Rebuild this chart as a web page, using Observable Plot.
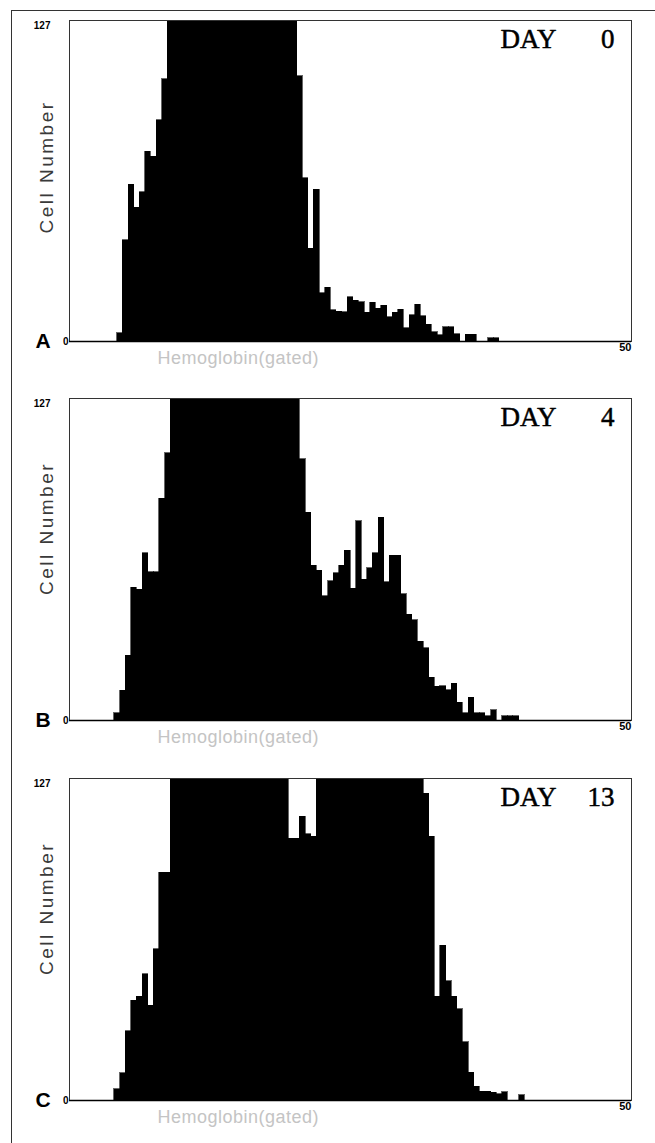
<!DOCTYPE html>
<html><head><meta charset="utf-8">
<script src="https://cdn.jsdelivr.net/npm/d3@7"></script>
<script src="https://cdn.jsdelivr.net/npm/@observablehq/plot@0.6"></script>
<style>
html,body{margin:0;padding:0;background:#fff;}
#fig{position:relative;width:655px;height:1143px;overflow:hidden;background:#fff;}
#border{position:absolute;left:11px;top:10px;right:-2px;bottom:-2px;border-left:1px solid #333;border-top:1px solid #333;}
.panel{position:absolute;left:0;width:655px;}
</style></head><body><div id="fig"><div id="border"></div></div>
<script>
// ---- data ----
const dayNumbers = ["0", "4", "13"];
const panelLetters = ["A", "B", "C"];
const binStart = [4.25, 4.0, 4.0];   // hemoglobin value of first bin
const binWidth = 0.5;
const yTicks = [0, 127];
const xTicks = [50];
const xLabel = "Hemoglobin(gated)";
const yLabel = "Cell Number";

const day0Counts = [3.3, 40, 62, 53, 59, 75, 73, 87.5, 103.7,
  127, 127, 127, 127, 127, 127, 127, 127, 127, 127, 127, 127, 127, 127, 127, 127, 127, 127, 127, 127, 127, 127, 127,
  105, 64.5, 36.7, 60, 19.1, 21.2, 12.3, 11.8, 11.6, 17.5, 16.2, 15.6, 11.3, 15.3, 12.9, 14.2, 9.6, 11.3, 12.5, 5.3,
  10.3, 14.5, 9.9, 6.6, 3.7, 2.4, 5.7, 5.7, 2.8, 0, 2.6, 2.6, 0, 0, 1.3, 1.3];

const day4Counts = [2.8, 11.7, 25.6, 52.3, 51.6, 66, 58.4, 58.4, 87.5, 105.5,
  127, 127, 127, 127, 127, 127, 127, 127, 127, 127, 127, 127, 127, 127, 127, 127, 127, 127, 127, 127, 127, 127, 127,
  103, 82, 61, 59, 49, 55, 58, 61, 67, 52, 78.5, 55.5, 60, 66, 80, 54.6, 65, 65, 49.7, 41.8,
  39.5, 31, 28.5, 16.8, 13.4, 13.5, 12, 14.5, 7, 2.9, 9, 2.9, 2.9, 1.6, 4, 0, 1.6, 1.6, 1.6];

const day13Counts = [4.5, 10.8, 27.4, 39.3, 41, 49.8, 37.4, 59.7, 89.8, 89.8,
  127, 127, 127, 127, 127, 127, 127, 127, 127, 127, 127, 127, 127, 127, 127, 127, 127, 127, 127, 127, 127,
  103.3, 103.3, 112, 105, 104,
  127, 127, 127, 127, 127, 127, 127, 127, 127, 127, 127, 127, 127, 127, 127, 127, 127, 127, 127,
  121, 104, 41, 61, 47, 41, 36, 23, 11, 5.5, 3.5, 3.5, 3, 2.5, 3.2, 0, 0, 2];

const allCounts = [day0Counts, day4Counts, day13Counts];

// ---- layout (not data) ----
const panelTop = [0, 378, 758];
const frameHeight = [321, 322, 322];
const cellLabelDy = [-14, -31, -31];

const fig = document.getElementById("fig");

allCounts.forEach((counts, p) => {
  const rows = counts.map((c, i) => ({
    x1: binStart[p] + i * binWidth,
    x2: binStart[p] + (i + 1) * binWidth,
    count: c
  }));
  const mt = 20, mb = 37;
  const chart = Plot.plot({
    width: 655,
    height: mt + frameHeight[p] + mb,
    marginLeft: 69, marginRight: 24, marginTop: mt, marginBottom: mb,
    x: {domain: [0, 50], label: null},
    y: {domain: [0, 127], label: null},
    style: {background: "transparent", fontFamily: "Liberation Sans, Arial, sans-serif", overflow: "visible"},
    marks: [
      Plot.rectY(rows, {x1: "x1", x2: "x2", y: "count", fill: "#000", stroke: "#000", strokeWidth: 0.6,
        inset: 0, shapeRendering: "crispEdges"}),
      Plot.frame({stroke: "#333", strokeWidth: 1}),
      Plot.ruleY([0], {stroke: "#000", strokeWidth: 1.5}),
      Plot.axisY([yTicks[1]], {tickSize: 0, tickPadding: 19, dy: 5, fontSize: 10, fontWeight: "bold", label: null}),
      Plot.axisY([yTicks[0]], {tickSize: 0, tickPadding: 1, fontSize: 10, fontWeight: "bold", label: null}),
      Plot.axisX(xTicks, {tickSize: 0, tickPadding: 2, textAnchor: "end", fontSize: 11, fontWeight: "bold", label: null}),
      Plot.text([yLabel], {frameAnchor: "left", textAnchor: "middle", rotate: -90, dx: -23, dy: cellLabelDy[p],
        lineAnchor: "middle", fontSize: 19, fill: "#3a3a3a"}),
      Plot.text([xLabel], {frameAnchor: "bottom-left", textAnchor: "start", dx: 88, dy: 17, lineAnchor: "middle",
        fontSize: 18, fill: "#c4c4c4"}),
      Plot.text([panelLetters[p]], {frameAnchor: "bottom-left", textAnchor: "start", dx: -34, dy: 0, lineAnchor: "middle",
        fontSize: 21, fontWeight: "bold", fill: "#000"}),
      Plot.text(["DAY"], {frameAnchor: "top-right", textAnchor: "start", dx: -131, dy: 8, lineAnchor: "top",
        fontFamily: "Liberation Serif, Times New Roman, serif", fontSize: 27, fill: "#000", stroke: "#000", strokeWidth: 0.5}),
      Plot.text([dayNumbers[p]], {frameAnchor: "top-right", textAnchor: "end", dx: -17, dy: 8, lineAnchor: "top",
        fontFamily: "Liberation Serif, Times New Roman, serif", fontSize: 27, fill: "#000", stroke: "#000", strokeWidth: 0.5})
    ]
  });
  d3.select(chart).selectAll("text")
    .filter(function() { return this.textContent === yLabel; })
    .style("letter-spacing", "2.5px");
  d3.select(chart).selectAll("text")
    .filter(function() { return this.textContent === xLabel; })
    .style("letter-spacing", "0.5px");
  const div = document.createElement("div");
  div.className = "panel";
  div.style.top = panelTop[p] + "px";
  div.appendChild(chart);
  fig.appendChild(div);
});
</script>
</body></html>
